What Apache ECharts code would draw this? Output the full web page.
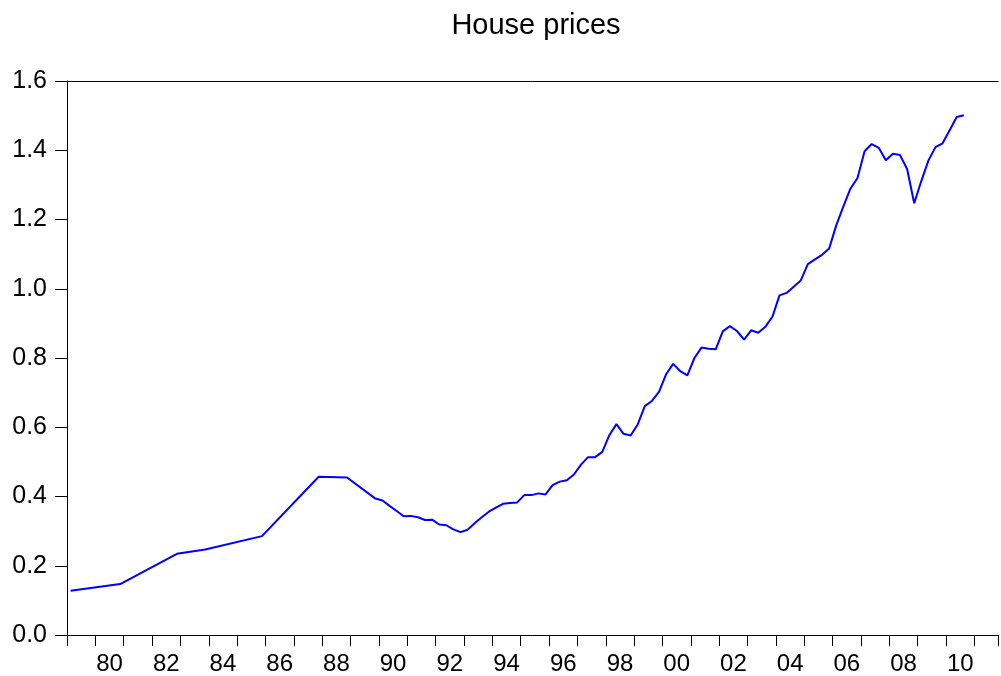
<!DOCTYPE html>
<html>
<head>
<meta charset="utf-8">
<script src="https://cdn.jsdelivr.net/npm/echarts@6/dist/echarts.min.js"></script>
<style>
  html, body { margin: 0; padding: 0; background: #fff; }
  #chart { width: 1001px; height: 676px; }
</style>
</head>
<body>
<div id="chart"></div>
<script>
// quarterly observations (early years only have sparse points)
const quarters = [
  '1979Q1', '1980Q4', '1982Q4', '1983Q4', '1985Q4', '1987Q4', '1988Q4', '1989Q4',
  '1990Q1', '1990Q2', '1990Q3', '1990Q4', '1991Q1', '1991Q2', '1991Q3', '1991Q4',
  '1992Q1', '1992Q2', '1992Q3', '1992Q4', '1993Q1', '1993Q2', '1993Q3', '1993Q4',
  '1994Q1', '1994Q2', '1994Q3', '1994Q4', '1995Q1', '1995Q2', '1995Q3', '1995Q4',
  '1996Q1', '1996Q2', '1996Q3', '1996Q4', '1997Q1', '1997Q2', '1997Q3', '1997Q4',
  '1998Q1', '1998Q2', '1998Q3', '1998Q4', '1999Q1', '1999Q2', '1999Q3', '1999Q4',
  '2000Q1', '2000Q2', '2000Q3', '2000Q4', '2001Q1', '2001Q2', '2001Q3', '2001Q4',
  '2002Q1', '2002Q2', '2002Q3', '2002Q4', '2003Q1', '2003Q2', '2003Q3', '2003Q4',
  '2004Q1', '2004Q2', '2004Q3', '2004Q4', '2005Q1', '2005Q2', '2005Q3', '2005Q4',
  '2006Q1', '2006Q2', '2006Q3', '2006Q4', '2007Q1', '2007Q2', '2007Q3', '2007Q4',
  '2008Q1', '2008Q2', '2008Q3', '2008Q4', '2009Q1', '2009Q2', '2009Q3', '2009Q4',
  '2010Q1', '2010Q2', '2010Q3'
];
const prices = [
  0.128, 0.147, 0.2345, 0.247, 0.2855, 0.457, 0.455, 0.394,
  0.3885, 0.373, 0.358, 0.343, 0.344, 0.340, 0.332, 0.333,
  0.319, 0.317, 0.305, 0.297, 0.304, 0.323, 0.340, 0.356,
  0.368, 0.379, 0.381, 0.383, 0.404, 0.404, 0.409, 0.406,
  0.433, 0.443, 0.447, 0.4635, 0.492, 0.5136, 0.5136, 0.529,
  0.577, 0.609, 0.581, 0.576, 0.608, 0.661, 0.676, 0.702,
  0.753, 0.783, 0.762, 0.750, 0.800, 0.830, 0.827, 0.825,
  0.877, 0.892, 0.878, 0.853, 0.880, 0.873, 0.890, 0.919,
  0.981, 0.988, 1.006, 1.024, 1.071, 1.085, 1.098, 1.116,
  1.183, 1.237, 1.289, 1.320, 1.397, 1.418, 1.407, 1.371,
  1.390, 1.386, 1.346, 1.247, 1.311, 1.370, 1.409, 1.420,
  1.458, 1.496, 1.501
];
// years that get a label, printed in the middle of the year
const labelYears = [1980, 1982, 1984, 1986, 1988, 1990, 1992, 1994, 1996,
  1998, 2000, 2002, 2004, 2006, 2008, 2010];
const yTicks = [0, 0.2, 0.4, 0.6, 0.8, 1.0, 1.2, 1.4, 1.6];

const xMin = 1979;
const xMax = 2011.83;

// '1990Q3' -> middle of that quarter as a decimal year
const toYear = (q) => {
  const y = parseInt(q.slice(0, 4), 10);
  const n = parseInt(q.slice(5), 10);
  return y + (n - 0.5) / 4;
};

const seriesData = quarters.map((q, i) => [toYear(q), prices[i]]);

const myChart = echarts.init(document.getElementById('chart'));
const font = '"Liberation Sans", Arial, sans-serif';

const option = {
  backgroundColor: '#fff',
  animation: false,
  title: {
    text: 'House prices',
    left: 531,
    top: 6,
    textAlign: 'center',
    textStyle: {
      fontFamily: font,
      fontSize: 29,
      fontWeight: 'normal',
      color: '#000'
    }
  },
  grid: {
    left: 67,
    right: 0,
    top: 81,
    bottom: 41
  },
  xAxis: [
    {
      // year ticks
      type: 'value',
      position: 'bottom',
      min: xMin,
      max: xMax,
      interval: 1,
      axisLine: { show: true, lineStyle: { color: '#000', width: 1 } },
      axisTick: { show: true, length: 11, lineStyle: { color: '#000', width: 1 } },
      axisLabel: { show: false },
      splitLine: { show: false }
    },
    {
      // half-year steps, only the mid-year of labelled years gets text
      type: 'value',
      position: 'bottom',
      min: xMin,
      max: xMax,
      interval: 0.5,
      axisLine: { show: false },
      axisTick: { show: false },
      splitLine: { show: false },
      axisLabel: {
        show: true,
        margin: 17,
        color: '#000',
        fontFamily: font,
        fontSize: 24,
        formatter: (v) => {
          const yr = Math.floor(v + 1e-6);
          if (Math.abs(v - yr - 0.5) > 1e-6) return '';
          if (labelYears.indexOf(yr) < 0) return '';
          return String(yr % 100).padStart(2, '0');
        }
      }
    },
    {
      // top frame line
      type: 'value',
      position: 'top',
      min: xMin,
      max: xMax,
      axisLine: { show: true, lineStyle: { color: '#000', width: 1 } },
      axisTick: { show: false },
      axisLabel: { show: false },
      splitLine: { show: false }
    }
  ],
  yAxis: {
    type: 'value',
    min: yTicks[0],
    max: yTicks[yTicks.length - 1],
    interval: 0.2,
    axisLine: { show: true, lineStyle: { color: '#000', width: 1 } },
    axisTick: { show: true, length: 12, lineStyle: { color: '#000', width: 1 } },
    splitLine: { show: false },
    axisLabel: {
      margin: 20,
      color: '#000',
      fontFamily: font,
      fontSize: 25,
      formatter: (v) => v.toFixed(1)
    }
  },
  series: [
    {
      name: 'House prices',
      type: 'line',
      xAxisIndex: 0,
      yAxisIndex: 0,
      data: seriesData,
      showSymbol: false,
      symbol: 'none',
      lineStyle: {
        color: '#0000ff',
        width: 2
      }
    }
  ]
};

myChart.setOption(option);

window.addEventListener('resize', () => {
  myChart.resize();
});
</script>
</body>
</html>
